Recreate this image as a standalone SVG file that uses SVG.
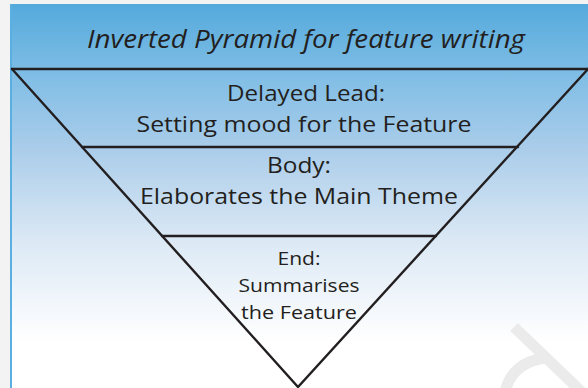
<svg xmlns="http://www.w3.org/2000/svg" width="588" height="388" viewBox="0 0 588 388">
  <defs>
    <linearGradient id="bg" x1="0" y1="0" x2="0" y2="1">
      <stop offset="0" stop-color="#54aadc"/>
      <stop offset="0.17" stop-color="#7cbce5"/>
      <stop offset="0.38" stop-color="#abcdea"/>
      <stop offset="0.62" stop-color="#dce9f5"/>
      <stop offset="0.88" stop-color="#ffffff"/>
      <stop offset="1" stop-color="#ffffff"/>
    </linearGradient>
    <style>
      .t { font-family: "Open Sans", "Liberation Sans", sans-serif; fill: #231f20; text-anchor: middle; }
      .ln { stroke: #231f20; stroke-width: 2.4; fill: none; stroke-linecap: round; stroke-linejoin: miter; }
      .wm { stroke: #ebebeb; stroke-width: 11; fill: none; }
    </style>
  </defs>
  <rect x="0" y="0" width="588" height="388" fill="#f3f3f3"/>
  <rect x="10" y="4" width="578" height="384" fill="url(#bg)"/>
  <rect x="10" y="4" width="2" height="384" fill="#5aaee0"/>
  <g id="watermark">
    <path class="wm" d="M514 327 L588 398"/>
    <path class="wm" d="M505 392 Q512 362 546 358"/>
  </g>
  <g id="title">
    <text class="t" x="306" y="48" font-size="25.5" font-style="italic" textLength="438" lengthAdjust="spacingAndGlyphs">Inverted Pyramid for feature writing</text>
  </g>
  <g id="connectors">
    <path class="ln" d="M12 69 L588 69"/>
    <path class="ln" d="M12 69 L298 387 L588 69"/>
    <path class="ln" d="M82 147 L518 147"/>
    <path class="ln" d="M162 236 L436 236"/>
  </g>
  <g id="delayed-lead">
    <text class="t" x="306" y="101" font-size="22.5" textLength="158" lengthAdjust="spacingAndGlyphs">Delayed Lead:</text>
    <text class="t" x="304" y="132" font-size="22.5" textLength="335" lengthAdjust="spacingAndGlyphs">Setting mood for the Feature</text>
  </g>
  <g id="body">
    <text class="t" x="299" y="173" font-size="22.5" textLength="64" lengthAdjust="spacingAndGlyphs">Body:</text>
    <text class="t" x="299" y="204" font-size="22.5" textLength="318" lengthAdjust="spacingAndGlyphs">Elaborates the Main Theme</text>
  </g>
  <g id="end">
    <text class="t" x="299" y="265" font-size="19" textLength="43" lengthAdjust="spacingAndGlyphs">End:</text>
    <text class="t" x="299" y="292" font-size="19" textLength="121" lengthAdjust="spacingAndGlyphs">Summarises</text>
    <text class="t" x="299" y="319" font-size="19" textLength="116" lengthAdjust="spacingAndGlyphs">the Feature</text>
  </g>
</svg>
